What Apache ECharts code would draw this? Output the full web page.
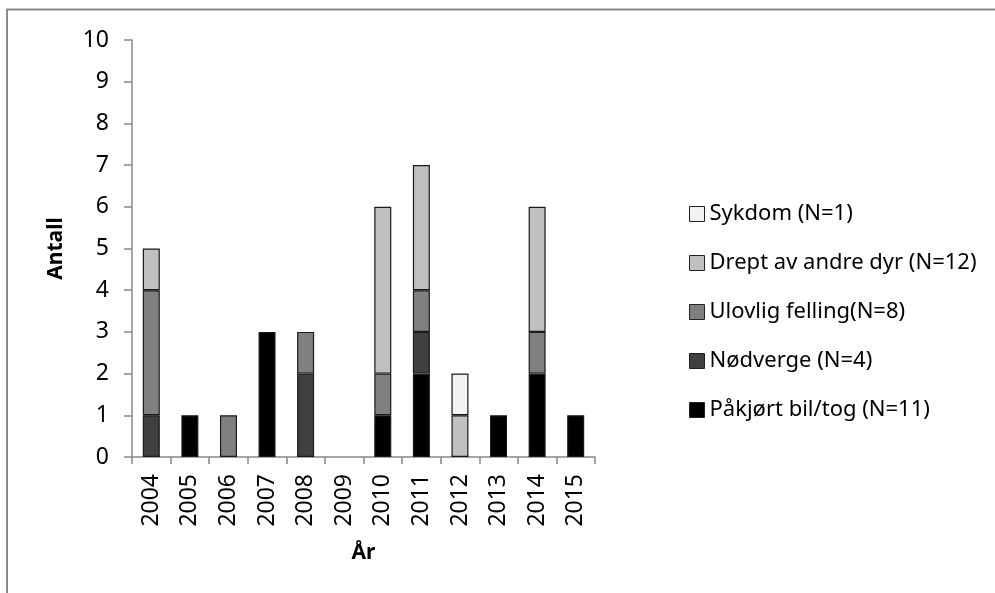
<!DOCTYPE html>
<html><head><meta charset="utf-8">
<script src="https://cdn.jsdelivr.net/npm/echarts@6/dist/echarts.min.js"></script>
<style>html,body{margin:0;padding:0;background:#fff}#c{width:995px;height:593px}</style>
</head><body><div id="c"></div>
<script>
const years = ['2004','2005','2006','2007','2008','2009','2010','2011','2012','2013','2014','2015'];
const pakjort   = [0,1,0,3,0,0,1,2,0,1,2,1];
const nodverge  = [1,0,0,0,2,0,0,1,0,0,0,0];
const ulovlig   = [3,0,1,0,1,0,1,1,0,0,1,0];
const drept     = [1,0,0,0,0,0,4,3,1,0,3,0];
const sykdom    = [0,0,0,0,0,0,0,0,1,0,0,0];
const seriesNames = ['Påkjørt bil/tog (N=11)','Nødverge (N=4)','Ulovlig felling(N=8)','Drept av andre dyr (N=12)','Sykdom (N=1)'];
const seriesData = [pakjort, nodverge, ulovlig, drept, sykdom];
const colors = ['#000000','#404040','#808080','#c0c0c0','#f2f2f2'];

const FONT = 'Noto Sans';
const chart = echarts.init(document.getElementById('c'), null, {renderer:'canvas'});
chart.setOption({
  animation:false,
  textStyle:{fontFamily:FONT},
  graphic:[{type:'rect',shape:{x:7,y:9.5,width:1020,height:620},style:{fill:'none',stroke:'#8a8a8a',lineWidth:2},silent:true}],
  grid:{left:132,right:400,top:40,bottom:136},
  legend:{
    orient:'vertical', left:684, top:197,
    data: seriesNames.slice().reverse(),
    itemWidth:15, itemHeight:15, itemGap:25,
    icon:'rect',
    itemStyle:{borderColor:'#222',borderWidth:1},
    textStyle:{fontFamily:FONT,fontSize:22,color:'#000',lineHeight:24}
  },
  xAxis:{
    type:'category', data:years,
    name:'År', nameLocation:'middle', nameGap:86,
    nameTextStyle:{fontFamily:FONT,fontSize:21,fontWeight:'bold',color:'#000'},
    axisLine:{lineStyle:{color:'#888',width:1.5}},
    axisTick:{show:true,length:7,lineStyle:{color:'#888',width:1.5},alignWithLabel:false},
    axisLabel:{rotate:90,margin:17,fontFamily:FONT,fontSize:23,color:'#000'}
  },
  yAxis:{
    type:'value', min:0, max:10, interval:1,
    name:'Antall', nameLocation:'middle', nameGap:65,
    nameTextStyle:{fontFamily:FONT,fontSize:21,fontWeight:'bold',color:'#000'},
    axisLine:{show:true,lineStyle:{color:'#888',width:1.5}},
    axisTick:{show:true,length:8,lineStyle:{color:'#888',width:1.5}},
    splitLine:{show:false},
    axisLabel:{margin:23,fontFamily:FONT,fontSize:23,color:'#000'}
  },
  series: seriesNames.map((n,i)=>({
    name:n, type:'bar', stack:'s', barWidth:17,
    data: seriesData[i].map(v=>v===0?'-':v),
    itemStyle:{color:colors[i],borderColor:'#1a1a1a',borderWidth:1.2}
  }))
});
</script></body></html>
